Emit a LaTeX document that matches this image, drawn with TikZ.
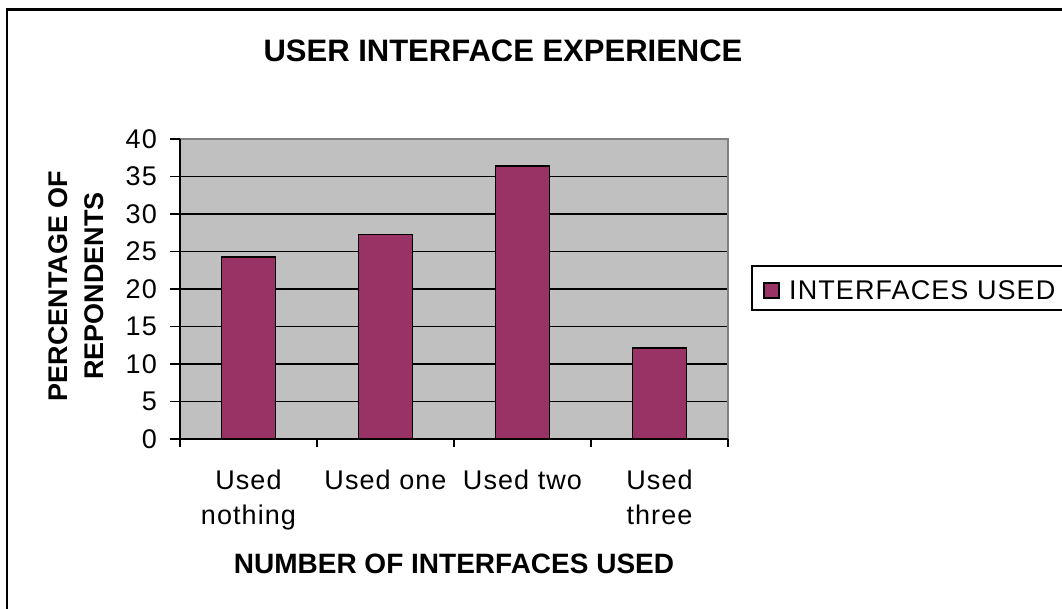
\documentclass[tikz,border=0pt]{standalone}
\usepackage{fontspec}
\setmainfont{Liberation Sans}
\newfontfamily\spacedsans[LetterSpace=4]{Liberation Sans}
\definecolor{barfill}{HTML}{993366}
\definecolor{plotbg}{HTML}{C0C0C0}
\definecolor{edgegray}{HTML}{808080}
\tikzset{
  ticklabel/.style={inner sep=0pt, font=\spacedsans\fontsize{27}{32}\selectfont},
  axistitle/.style={inner sep=0pt, font=\bfseries\fontsize{28}{33}\selectfont},
  bar/.style={fill=barfill, draw=black, line width=1.8pt},
  grid line/.style={draw=black, line width=1.8pt},
  axis line/.style={draw=black, line width=1.8pt},
}
\begin{document}
\begin{tikzpicture}[x=1pt, y=-1pt]
  \useasboundingbox (0,0) rectangle (1062,608);
  \fill[white] (0,0) rectangle (1062,608);

  % chart frame (runs past the right and bottom edges)
  \draw[line width=2.4pt] (7,650) -- (7,9.5) -- (1100,9.5);

  % title
  \node[inner sep=0pt, font=\bfseries\fontsize{31}{36}\selectfont] (title) at (503,51) {USER INTERFACE EXPERIENCE};

  % plot area: x 180..728, y 439 (0) .. 139 (40), 7.5 px per unit
  \fill[plotbg] (180,139) rectangle (728,439);
  \foreach \v in {5,10,...,35} {
    \draw[grid line] (180,{439-7.5*\v}) -- (728,{439-7.5*\v});
  }
  \draw[edgegray, line width=1.8pt] (180,139) -- (728,139) -- (728,439);

  % bars (8, 9, 12 and 4 of 33 respondents)
  \foreach \c/\v/\n in {248.5/24.24/b1, 385.5/27.27/b2, 522.5/36.36/b3, 659.5/12.12/b4} {
    \draw[bar] (\c-27,439) rectangle (\c+27,{439-7.5*\v});
  }

  % axes and ticks
  \draw[axis line] (180,139) -- (180,439) -- (728,439);
  \foreach \v in {0,5,...,40} {
    \draw[axis line] (170,{439-7.5*\v}) -- (180,{439-7.5*\v});
    \node[ticklabel, anchor=east] (y\v) at (157,{439-7.5*\v}) {\v};
  }
  \foreach \x in {180,317,454,591,728} {
    \draw[axis line] (\x,439) -- (\x,447);
  }

  % category labels
  \node[ticklabel, anchor=base] (c1a) at (248.5,489) {Used};
  \node[ticklabel, anchor=base] (c1b) at (248.5,524) {nothing};
  \node[ticklabel, anchor=base] (c2)  at (385.5,489) {Used one};
  \node[ticklabel, anchor=base] (c3)  at (522.5,489) {Used two};
  \node[ticklabel, anchor=base] (c4a) at (659.5,489) {Used};
  \node[ticklabel, anchor=base] (c4b) at (659.5,524) {three};

  % axis titles
  \node[axistitle, anchor=base] (xtitle) at (454,573) {NUMBER OF INTERFACES USED};
  \node[inner sep=0pt, font=\bfseries\fontsize{27}{36}\selectfont, align=center, rotate=90] (ytitle) at (76,286) {PERCENTAGE OF\\REPONDENTS};

  % legend
  \draw[line width=1.8pt, fill=white] (752,266) rectangle (1100,310);
  \draw[bar, line width=1.5pt] (764,283) rectangle (779,298);
  \node[ticklabel, anchor=west] (legtext) at (789,290) {INTERFACES USED};
\end{tikzpicture}
\end{document}
